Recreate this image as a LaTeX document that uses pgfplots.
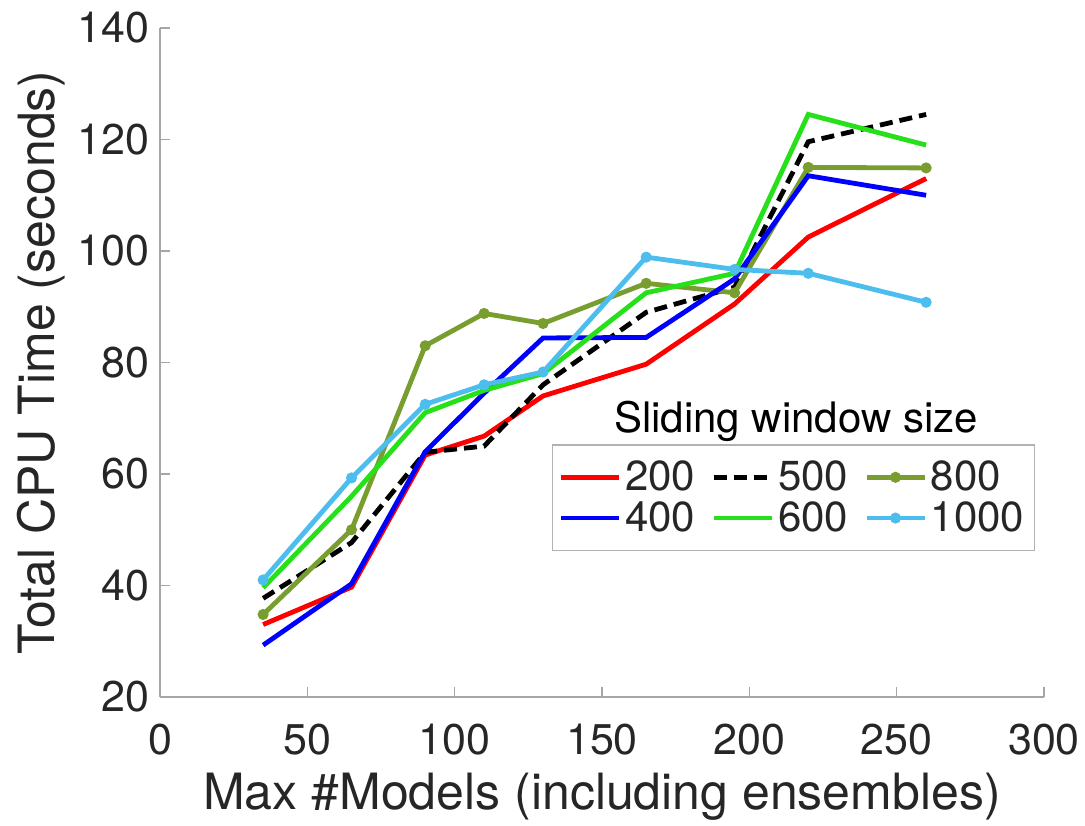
\documentclass[border=0pt]{standalone}
\usepackage{fontspec}
\setmainfont{TeX Gyre Heros}
\usepackage{pgfplots}
\pgfplotsset{compat=1.18}
\definecolor{olivec}{rgb}{0.47,0.62,0.19}
\definecolor{lbluec}{rgb}{0.30,0.74,0.93}
\definecolor{greenc}{rgb}{0.15,0.88,0.10}
\definecolor{txt}{gray}{0.15}
\begin{document}
\begin{tikzpicture}
\path[use as bounding box] (-80pt,-64pt) rectangle (462.5pt,348.5pt);
\begin{axis}[
  at={(0,0)}, anchor=south west,
  scale only axis, width=442pt, height=334.5pt,
  xmin=0, xmax=300, ymin=20, ymax=140,
  xtick={0,50,...,300}, ytick={20,40,...,140},
  axis x line*=bottom, axis y line*=left,
  axis line style={gray!70, line width=0.8pt, -},
  tick style={gray!70, line width=0.8pt},
  tick align=inside, major tick length=5pt,
  /pgf/number format/assume math mode=true,
  tick label style={font=\fontsize{21.5}{25}\selectfont, text=txt},
  xticklabel style={yshift=-9pt},
  yticklabel style={xshift=-1pt},
  label style={font=\fontsize{25}{29}\selectfont, text=txt},
  xlabel={Max \#Models (including ensembles)},
  ylabel={Total CPU Time (seconds)},
  xlabel style={yshift=-1pt},
  ylabel style={yshift=-2pt},
  line width=2.4pt,
  legend columns=3,
  legend cell align=left,
  legend style={at={(0.443,0.378)}, anchor=north west,
    draw=gray!60, line width=0.8pt, fill=white,
    font=\fontsize{21}{26}\selectfont, text=txt,
    inner xsep=3pt, inner ysep=6pt,
    /tikz/every even column/.append style={column sep=6pt}},
  legend image code/.code={\draw[mark repeat=2,mark phase=2,#1] plot coordinates {(0pt,0pt) (14.5pt,0pt) (29pt,0pt)};},
]
\addplot[red, line width=2.4pt] coordinates {(35,33) (65,39.7) (90,63.4) (110,66.8) (130,74) (165,79.7) (195,90.5) (220,102.5) (260,113)};
\addlegendentry{200}
\addplot[black, dashed, dash pattern=on 6.5pt off 3.5pt, line width=2.4pt] coordinates {(35,37.7) (65,47.7) (90,63.9) (110,65) (130,76) (165,89) (195,93.5) (220,119.6) (260,124.5)};
\addlegendentry{500}
\addplot[olivec, line width=2.4pt, mark=*, mark size=1.5pt, mark options={solid}] coordinates {(35,34.8) (65,50) (90,83) (110,88.8) (130,87) (165,94.2) (195,92.5) (220,115) (260,114.9)};
\addlegendentry{800}
\addplot[blue, line width=2.4pt] coordinates {(35,29.3) (65,40.3) (90,64) (110,74.5) (130,84.4) (165,84.5) (195,95) (220,113.5) (260,110)};
\addlegendentry{400}
\addplot[greenc, line width=2.4pt] coordinates {(35,39.6) (65,56) (90,71) (110,75) (130,78) (165,92.5) (195,96) (220,124.5) (260,119)};
\addlegendentry{600}
\addplot[lbluec, line width=2.4pt, mark=*, mark size=1.5pt] coordinates {(35,41) (65,59.3) (90,72.5) (110,76) (130,78.3) (165,98.9) (195,96.7) (220,96) (260,90.8)};
\addlegendentry{1000}
\node[anchor=base, font=\fontsize{21}{25}\selectfont, text=black] at (axis cs:215.8,67.5) {Sliding window size};
\end{axis}
\end{tikzpicture}
\end{document}
